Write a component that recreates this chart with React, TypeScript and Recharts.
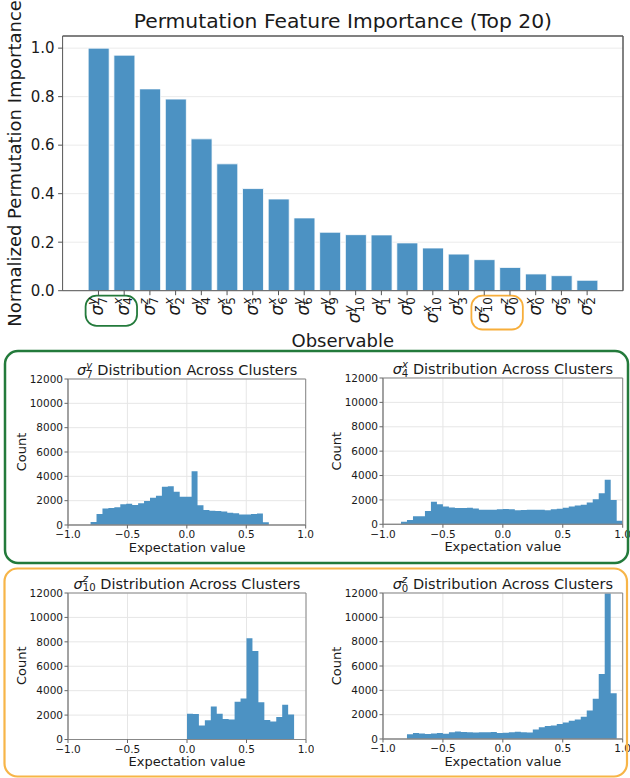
import React from 'react';
import { BarChart, Bar, XAxis, YAxis, CartesianGrid, ReferenceArea, AreaChart, Area } from 'recharts';

const FONT = '"DejaVu Sans", Verdana, sans-serif';
const BLUE = '#4c92c3';
const TEXT = '#1a1a1a';

// ---------- Top chart data ----------
const obsQubits = [7, 4, 7, 2, 4, 5, 3, 6, 6, 9, 10, 1, 0, 10, 3, 10, 0, 0, 9, 2];
const obsAxes = ['y', 'x', 'z', 'x', 'y', 'x', 'x', 'x', 'y', 'y', 'y', 'y', 'y', 'x', 'y', 'z', 'z', 'x', 'z', 'z'];
const importance = [1.0, 0.971, 0.832, 0.79, 0.626, 0.523, 0.421, 0.378, 0.3, 0.241, 0.231, 0.23, 0.197, 0.176, 0.151, 0.128, 0.096, 0.069, 0.062, 0.043];
const importanceTicks = [0, 0.2, 0.4, 0.6, 0.8, 1.0];
const greenGroup = [0, 1];
const orangeGroup = [15, 16];

// ---------- Histogram data ----------
const expTicks = [-1, -0.5, 0, 0.5, 1];
const countTicks = [0, 2000, 4000, 6000, 8000, 10000, 12000];
const binWidth = 0.05;

const s7yStart = -0.81;
const s7yCounts = [250, 900, 1350, 1400, 1450, 1700, 1750, 1650, 1780, 1980, 2230, 2400, 3150, 3180, 2730, 2320, 2320, 4420, 1630, 1230, 1180, 1160, 1100, 1000, 960, 870, 870, 900, 950, 220];

const s4xStart = -0.85;
const s4xCounts = [200, 350, 650, 650, 1100, 1850, 1650, 1450, 1380, 1330, 1340, 1360, 1300, 1200, 1200, 1200, 1230, 1250, 1230, 1150, 1180, 1200, 1200, 1200, 1150, 1230, 1280, 1350, 1450, 1550, 1600, 1780, 2050, 2550, 3650, 2000, 300];

const s10zStart = 0.0;
const s10zCounts = [2100, 2080, 1150, 1580, 2700, 2100, 1670, 1640, 3100, 3350, 8300, 7250, 3050, 1600, 1480, 1850, 2850, 2050];

const s0zStart = -0.8;
const s0zCounts = [400, 500, 450, 420, 460, 490, 440, 550, 620, 580, 550, 540, 550, 550, 580, 500, 520, 550, 600, 550, 540, 780, 970, 1070, 1100, 1230, 1350, 1500, 1600, 1820, 2350, 3300, 5350, 11950, 3750];

const obsData = obsQubits.map((q, i) => ({ key: `σ${q}${obsAxes[i]}`, value: importance[i] }));

// approximate DejaVu Sans advance widths (em)
const charW: Record<string, number> = { x: 0.592, y: 0.592, z: 0.525 };

// top chart plot box (layout)
const TOP_PLOT = { left: 62.6, top: 36, right: 623, bottom: 290.7 };

function ObsTick(props: any) {
  const { x, y, payload } = props;
  const idx = obsData.findIndex((d) => d.key === payload.value);
  if (idx < 0) return null;
  const q = obsQubits[idx];
  const a = obsAxes[idx];
  const small = 12;
  const supW = (charW[a] || 0.6) * small;
  return (
    <g transform={`translate(${x},${y}) rotate(-90)`}>
      <text x={0} y={4.8} textAnchor="end" fontFamily={FONT} fill={TEXT}>
        <tspan fontSize={17} fontStyle="italic">σ</tspan>
        <tspan fontSize={small} fontStyle="italic" dy={-7}>{a}</tspan>
        <tspan fontSize={small} dx={-supW} dy={10.4}>{String(q)}</tspan>
      </text>
    </g>
  );
}

const fmtSigned = (v: number) => (v < 0 ? '\u2212' : '') + Math.abs(v).toFixed(1);

function groupBox(color: string) {
  return (p: any) => (
    <rect x={p.x} y={p.y} width={p.width} height={p.height} rx={11} ry={11} fill="none" stroke={color} strokeWidth={1.8} />
  );
}

function TopChart() {
  return (
    <div style={{ position: 'absolute', left: 0, top: 0 }}>
      <BarChart
        width={630}
        height={350}
        data={obsData}
        margin={{ top: TOP_PLOT.top, right: 630 - TOP_PLOT.right, bottom: 9.3, left: 0 }}
        barCategoryGap="10%"
      >
        <CartesianGrid vertical={false} stroke="#ebebeb" />
        <XAxis
          dataKey="key"
          interval={0}
          tick={<ObsTick />}
          tickSize={4.5}
          tickMargin={2}
          padding={{ left: 23, right: 23 }}
          height={50}
          axisLine={{ stroke: '#555' }}
          tickLine={{ stroke: '#555' }}
        />
        <YAxis
          domain={[0, 1.05]}
          ticks={importanceTicks}
          tickFormatter={(v: number) => v.toFixed(1)}
          width={TOP_PLOT.left}
          tickSize={4.5}
          tickMargin={3.5}
          axisLine={{ stroke: '#555' }}
          tickLine={{ stroke: '#555' }}
          tick={{ fontSize: 15, fill: TEXT, fontFamily: FONT }}
        />
        <Bar dataKey="value" fill={BLUE} stroke="#ffffff" strokeWidth={0.8} isAnimationActive={false} />
        <ReferenceArea
          x1={obsData[greenGroup[0]].key}
          x2={obsData[greenGroup[1]].key}
          y1={-0.02}
          y2={-0.145}
          ifOverflow="visible"
          shape={groupBox('#237a3b')}
        />
        <ReferenceArea
          x1={obsData[orangeGroup[0]].key}
          x2={obsData[orangeGroup[1]].key}
          y1={-0.02}
          y2={-0.16}
          ifOverflow="visible"
          shape={groupBox('#f7ae3b')}
        />
      </BarChart>
    </div>
  );
}

type Panel = { q: number; a: string; start: number; counts: number[]; left: number; top: number; right: number; bottom: number };

const panels: Panel[] = [
  { q: 7, a: 'y', start: s7yStart, counts: s7yCounts, left: 68.3, top: 379, right: 306, bottom: 525 },
  { q: 4, a: 'x', start: s4xStart, counts: s4xCounts, left: 383, top: 378, right: 622.7, bottom: 524.3 },
  { q: 10, a: 'z', start: s10zStart, counts: s10zCounts, left: 68, top: 592.5, right: 306, bottom: 739 },
  { q: 0, a: 'z', start: s0zStart, counts: s0zCounts, left: 383, top: 593, right: 622.7, bottom: 739 },
];

function Histogram({ p }: { p: Panel }) {
  const data = p.counts.map((c, i) => ({ x: +(p.start + i * binWidth).toFixed(4), c }));
  data.push({ x: +(p.start + p.counts.length * binWidth).toFixed(4), c: p.counts[p.counts.length - 1] });
  const padL = 60;
  const padT = 10;
  const padR = 8;
  const padB = 25;
  const w = p.right - p.left + padL + padR;
  const h = p.bottom - p.top + padT + padB;
  return (
    <div style={{ position: 'absolute', left: p.left - padL, top: p.top - padT }}>
      <AreaChart width={w} height={h} data={data} margin={{ top: padT, right: padR, bottom: 0, left: 0 }}>
        <CartesianGrid stroke="#e6e6e6" />
        <XAxis
          type="number"
          dataKey="x"
          domain={[-1, 1]}
          ticks={expTicks}
          allowDataOverflow
          tickFormatter={fmtSigned}
          tickSize={3.5}
          tickMargin={2.5}
          height={padB}
          axisLine={{ stroke: '#888' }}
          tickLine={{ stroke: '#666' }}
          tick={{ fontSize: 10.5, fill: TEXT, fontFamily: FONT }}
        />
        <YAxis
          type="number"
          domain={[0, 12000]}
          ticks={countTicks}
          allowDataOverflow
          width={padL}
          tickSize={3.5}
          tickMargin={1.5}
          axisLine={{ stroke: '#888' }}
          tickLine={{ stroke: '#666' }}
          tick={{ fontSize: 10.5, fill: TEXT, fontFamily: FONT }}
        />
        <Area type="stepAfter" dataKey="c" fill={BLUE} fillOpacity={1} stroke="none" isAnimationActive={false} />
        <ReferenceArea x1={-1} x2={1} y1={0} y2={12000} fill="none" stroke="#888" strokeWidth={1} ifOverflow="visible" />
      </AreaChart>
    </div>
  );
}

function SigmaTitle({ x, y, q, a, fs }: { x: number; y: number; q: number; a: string; fs: number }) {
  const small = fs * 0.7;
  const supW = (charW[a] || 0.6) * small;
  return (
    <text x={x} y={y} textAnchor="middle" fontSize={fs} fontFamily={FONT} fill={TEXT} style={{ whiteSpace: 'pre' }}>
      <tspan fontStyle="italic">σ</tspan>
      <tspan fontSize={small} fontStyle="italic" dy={-0.42 * fs}>{a}</tspan>
      <tspan fontSize={small} dx={-supW} dy={0.62 * fs}>{String(q)}</tspan>
      <tspan dy={-0.2 * fs}>{' Distribution Across Clusters'}</tspan>
    </text>
  );
}

function Overlay() {
  const { left, top, right, bottom } = TOP_PLOT;
  return (
    <svg width={630} height={778} style={{ position: 'absolute', left: 0, top: 0, pointerEvents: 'none', zIndex: 5 }}>
      {/* top chart frame (top and right spines) */}
      <line x1={left} y1={top} x2={right} y2={top} stroke="#595959" strokeWidth={1.5} />
      <line x1={right} y1={top} x2={right} y2={bottom} stroke="#595959" strokeWidth={1.5} />
      <text x={342.8} y={28} textAnchor="middle" fontSize={20.3} fontFamily={FONT} fill={TEXT}>
        Permutation Feature Importance (Top 20)
      </text>
      <text transform="translate(20.5,163.4) rotate(-90)" textAnchor="middle" fontSize={18} fontFamily={FONT} fill={TEXT}>
        Normalized Permutation Importance
      </text>
      <text x={342.8} y={346.5} textAnchor="middle" fontSize={18} fontFamily={FONT} fill={TEXT}>
        Observable
      </text>

      {/* panel frames */}
      <rect x={5} y={351} width={623} height={212} rx={13} ry={13} fill="none" stroke="#237a3b" strokeWidth={2.5} />
      <rect x={4.5} y={568.5} width={622.5} height={208} rx={13} ry={13} fill="none" stroke="#f7b548" strokeWidth={2.2} />

      {panels.map((p, i) => {
        const cx = (p.left + p.right) / 2;
        const cy = (p.top + p.bottom) / 2;
        return (
          <g key={i}>
            <SigmaTitle x={cx} y={p.top - 4} q={p.q} a={p.a} fs={14.5} />
            <text x={cx} y={p.bottom + 27} textAnchor="middle" fontSize={13} fontFamily={FONT} fill={TEXT}>
              Expectation value
            </text>
            <text transform={`translate(${p.left - 42},${cy}) rotate(-90)`} textAnchor="middle" fontSize={13} fontFamily={FONT} fill={TEXT}>
              Count
            </text>
          </g>
        );
      })}
    </svg>
  );
}

export default function App() {
  return (
    <div style={{ position: 'absolute', left: 0, top: 0, width: 630, height: 778, background: '#ffffff', overflow: 'hidden', fontFamily: FONT }}>
      <TopChart />
      {panels.map((p, i) => (
        <Histogram key={i} p={p} />
      ))}
      <Overlay />
    </div>
  );
}
